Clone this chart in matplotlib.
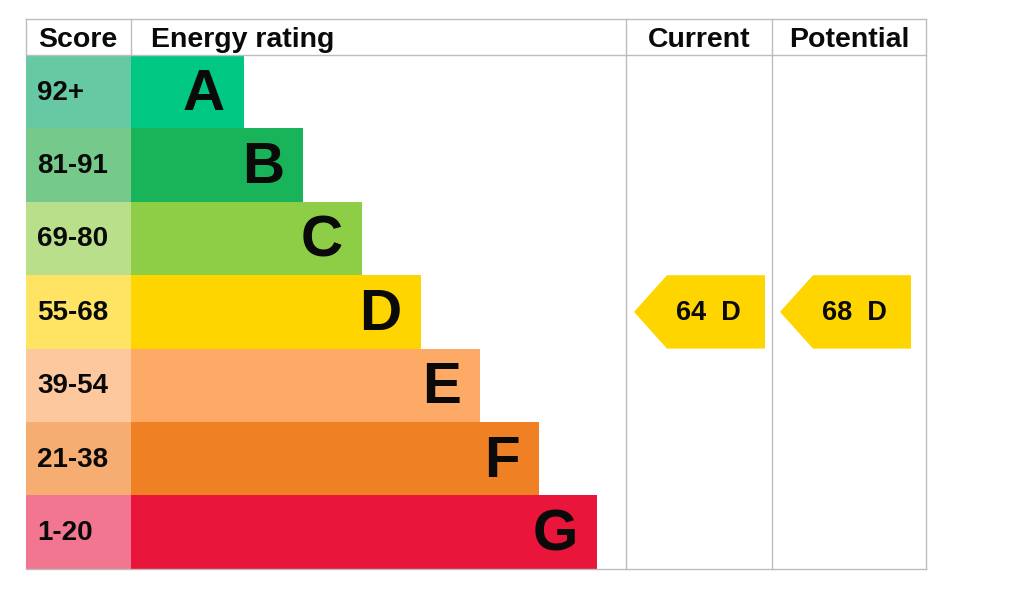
import matplotlib.pyplot as plt
from matplotlib.patches import Rectangle, Polygon

bands = ['92+', '81-91', '69-80', '55-68', '39-54', '21-38', '1-20']
letters = ['A', 'B', 'C', 'D', 'E', 'F', 'G']
lows = [92, 81, 69, 55, 39, 21, 1]
bar_colors = ['#00c781', '#19b459', '#8dce46', '#ffd500', '#fcaa65', '#ef8023', '#e9153b']
score_colors = ['#66c9a3', '#75c98a', '#badf8a', '#fee462', '#fec89f', '#f5ad72', '#f2768f']
current = 64
potential = 68

plt.rcParams['font.family'] = ['Liberation Sans', 'DejaVu Sans']

fig = plt.figure(figsize=(10.24, 6.05), dpi=100)
ax = fig.add_axes([0, 0, 1, 1])
ax.set_xlim(0, 1024)
ax.set_ylim(605, 0)
ax.axis('off')

left, score_w, top, head_h, row_h = 26, 105, 19, 36, 73.4
bar_x0 = left + score_w
bar_w0, bar_step = 113, 58.9
col_cur, col_pot, right = 626, 772, 926
grid = '#bdbdbd'
ink = '#0a0a0a'

def band_of(v):
    for i, lo in enumerate(lows):
        if v >= lo:
            return i
    return len(lows) - 1

for i, b in enumerate(bands):
    y = top + head_h + i * row_h
    ax.add_patch(Rectangle((left, y), score_w, row_h, color=score_colors[i], lw=0))
    w = bar_w0 + bar_step * i
    ax.add_patch(Rectangle((bar_x0, y), w, row_h, color=bar_colors[i], lw=0))
    ax.text(left + 11, y + row_h / 2 + 1, b, fontsize=20, fontweight='bold', va='center', ha='left', color=ink)
    ax.text(bar_x0 + w - 19, y + row_h / 2 + 3, letters[i], fontsize=42, fontweight='bold', va='center', ha='right', color=ink)

bottom = top + head_h + 7 * row_h
ax.plot([left, right], [top, top], color=grid, lw=1)
ax.plot([left, right], [top + head_h, top + head_h], color=grid, lw=1)
ax.plot([left, right], [bottom, bottom], color=grid, lw=1)
ax.plot([left, left], [top, top + head_h], color=grid, lw=1)
ax.plot([bar_x0, bar_x0], [top, top + head_h], color=grid, lw=1)
for x in [col_cur, col_pot, right]:
    ax.plot([x, x], [top, bottom], color=grid, lw=1)

hy = top + head_h / 2 + 3
ax.text(left + 12, hy, 'Score', fontsize=20.5, fontweight='bold', va='center', ha='left', color=ink)
ax.text(bar_x0 + 20, hy, 'Energy rating', fontsize=20.5, fontweight='bold', va='center', ha='left', color=ink)
ax.text((col_cur + col_pot) / 2, hy, 'Current', fontsize=20.5, fontweight='bold', va='center', ha='center', color=ink)
ax.text((col_pot + right) / 2, hy, 'Potential', fontsize=20.5, fontweight='bold', va='center', ha='center', color=ink)

for val, x0 in [(current, col_cur), (potential, col_pot)]:
    i = band_of(val)
    y = top + head_h + i * row_h
    tip = x0 + 8
    end = x0 + 139
    pt = 33
    ax.add_patch(Polygon([(tip, y + row_h / 2), (tip + pt, y), (end, y), (end, y + row_h), (tip + pt, y + row_h)],
                         closed=True, color=bar_colors[i], lw=0))
    ax.text(tip + 0.57 * (end - tip), y + row_h / 2 + 1, f'{val}  {letters[i]}', fontsize=19.5, fontweight='bold',
            va='center', ha='center', color=ink)

fig.savefig('out.png', dpi=100, facecolor='white')
